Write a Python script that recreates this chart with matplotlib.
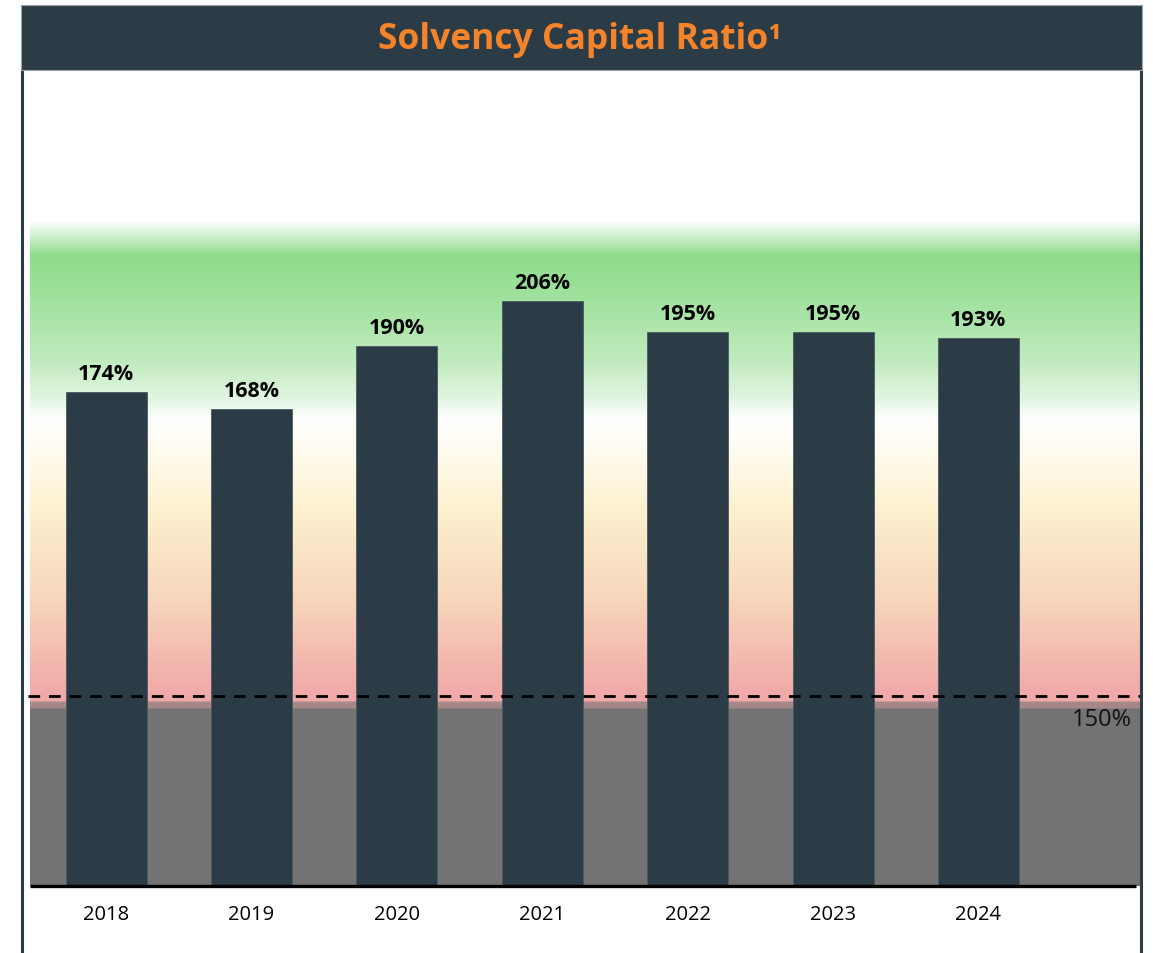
import numpy as np
import matplotlib
matplotlib.use('Agg')
import matplotlib.pyplot as plt
from matplotlib.colors import to_rgb
from matplotlib.patches import Rectangle

# data
years = ['2018', '2019', '2020', '2021', '2022', '2023', '2024']
scr_ratio = [174, 168, 190, 206, 195, 195, 193]
threshold_label = '150%'
title = 'Solvency Capital Ratio\u00b9'

W, H = 1153, 954
DARK = '#2c3c47'
ORANGE = '#f5832a'
FONT = ['Open Sans', 'DejaVu Sans']

fig = plt.figure(figsize=(W / 100, H / 100), dpi=100)
fig.patch.set_facecolor('white')


def fx(px):
    return px / W


def fy(py):
    return 1 - py / H


# frame + title bar (figure coords)
fig.patches.append(Rectangle((fx(21), fy(71)), fx(1142) - fx(21), fy(6) - fy(71),
                             transform=fig.transFigure, facecolor=DARK,
                             edgecolor='#9aa3aa', linewidth=0.8, zorder=1))
for x in (22, 1141):
    fig.lines.append(plt.Line2D([fx(x), fx(x)], [fy(71), 0], transform=fig.transFigure,
                                color=DARK, linewidth=2.2, zorder=1))
fig.text(fx(580), fy(40), title, ha='center', va='center', color=ORANGE,
         fontsize=25.5, fontweight='bold', family=FONT)

# plot axes: bottom at value 0 (px 887), top px 222
ax_l, ax_r, ax_t, ax_b = 30, 1140, 222, 887
ax = fig.add_axes([fx(ax_l), fy(ax_b), fx(ax_r) - fx(ax_l), fy(ax_t) - fy(ax_b)])
ax.set_facecolor('none')
px_per_unit = 2.84
ax.set_ylim(0, (ax_b - ax_t) / px_per_unit)
step = 145.4
x0 = 106
ax.set_xlim((ax_l - x0) / step, (ax_r - x0) / step)

# background gradient (pixel rows from top of axes)
stops = [
    (222, '#ffffff'), (228, '#eaf7ea'), (240, '#c5ecc5'), (252, '#9fe29b'),
    (256, '#8edc8b'), (300, '#a1e29e'), (360, '#bfeabd'), (400, '#e3f5e2'),
    (420, '#ffffff'), (440, '#fffdf5'), (510, '#fdf1cf'), (600, '#f7d6bc'),
    (690, '#f1aba9'), (702, '#f0a9a8'), (703, '#a88a8a'), (709, '#a58585'),
    (710, '#737373'), (887, '#737373'),
]
rows = np.arange(ax_t, ax_b) + 0.5
sp = np.array([s[0] for s in stops], dtype=float)
cols = np.array([to_rgb(s[1]) for s in stops])
img = np.stack([np.interp(rows, sp, cols[:, k]) for k in range(3)], axis=1)
img = img[:, None, :]
ax.imshow(img, extent=(0, 1, 0, 1), transform=ax.transAxes, aspect='auto',
          interpolation='nearest', zorder=0)

xs = np.arange(len(years))
bars = ax.bar(xs, scr_ratio, width=81 / step, color=DARK, edgecolor='#4a5963',
              linewidth=0.6, zorder=3)
for b, v in zip(bars, scr_ratio):
    ax.annotate(f'{v}%', (b.get_x() + b.get_width() / 2, v), xytext=(0, 6),
                textcoords='offset points', ha='center', va='bottom',
                fontsize=15.5, fontweight='bold', color='black',
                family=FONT, zorder=5)

# decorative threshold line
yf = (ax_b - 697) / (ax_b - ax_t)
ax.plot([-0.002, 1], [yf, yf], transform=ax.transAxes, color='black',
        linewidth=2.0, linestyle=(0, (4.2, 3.2)), clip_on=False, zorder=4)
ax.text(0.993, yf - 0.016, threshold_label, transform=ax.transAxes, ha='right',
        va='top', fontsize=17, color='#111111', family=FONT, zorder=5)

# baseline
ax.plot([0, (1136 - ax_l) / (ax_r - ax_l)], [0, 0], transform=ax.transAxes,
        color='black', linewidth=2.4, clip_on=False, solid_capstyle='butt', zorder=4)

for s in ax.spines.values():
    s.set_visible(False)
ax.set_yticks([])
ax.set_xticks(xs)
ax.set_xticklabels(years, fontsize=14.5, family=FONT)
ax.tick_params(axis='x', length=0, pad=13)

fig.savefig('out.png', dpi=100)
